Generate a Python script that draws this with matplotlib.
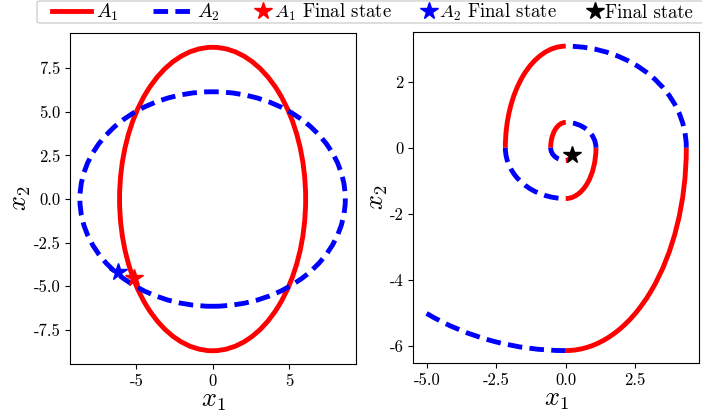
import matplotlib
matplotlib.use("Agg")
import matplotlib.pyplot as plt
from matplotlib.patches import Ellipse, Arc, FancyBboxPatch
from matplotlib.lines import Line2D

plt.rcParams['font.family'] = 'serif'
plt.rcParams['font.serif'] = ['cmr10']
plt.rcParams['mathtext.fontset'] = 'cm'
plt.rcParams['axes.unicode_minus'] = False
plt.rcParams['axes.formatter.use_mathtext'] = False

# semi-axes (x, y) of the two closed orbits
A1_axes = (6.1, 8.7)
A2_axes = (8.7, 6.15)
# where each mode ends up on the left panel
A1_final = (-5.13, -4.55)
A2_final = (-6.18, -4.2)

# switched trajectory: quarter arcs of the mode ellipses (angles in degrees)
seg_mode = ['A2', 'A1', 'A2', 'A1', 'A2', 'A1', 'A2', 'A1', 'A2', 'A1']
seg_a = [8.7, 4.35, 4.35, 2.18, 2.18, 1.09, 1.09, 0.545, 0.545, 0.27]
seg_b = [6.15, 6.15, 3.08, 3.08, 1.54, 1.54, 0.77, 0.77, 0.385, 0.385]
seg_start = [225, 270, 0, 90, 180, 270, 0, 90, 180, 270]
seg_end = [270, 360, 90, 180, 270, 360, 90, 180, 270, 300]
switched_final = (0.22, -0.22)

lw = 3.5
dash = (0, (3, 1.5))
style = {'A1': dict(color='red', linestyle='-'),
         'A2': dict(color='blue', linestyle=dash)}

W, H = 702, 415
fig = plt.figure(figsize=(W / 100, H / 100), dpi=100)
ax1 = fig.add_axes([0.0997, 0.1229, 0.4074, 0.798])
ax2 = fig.add_axes([0.5888, 0.125, 0.4074, 0.798])

# left: each mode on its own
ax1.add_patch(Ellipse((0, 0), 2 * A1_axes[0], 2 * A1_axes[1], fill=False, lw=lw, **style['A1']))
ax1.add_patch(Ellipse((0, 0), 2 * A2_axes[0], 2 * A2_axes[1], fill=False, lw=lw, **style['A2']))
ax1.plot(*A2_final, marker='*', color='blue', ms=13, ls='none')
ax1.plot(*A1_final, marker='*', color='red', ms=13, ls='none')
ax1.set_xlim(-9.35, 9.4)
ax1.set_ylim(-9.46, 9.53)
ax1.set_xticks([-5, 0, 5])
ax1.set_yticks([-7.5, -5, -2.5, 0, 2.5, 5, 7.5])
ax1.set_yticklabels(['-7.5', '-5.0', '-2.5', '0.0', '2.5', '5.0', '7.5'])

# right: switching between modes
for m, a, b, t1, t2 in zip(seg_mode, seg_a, seg_b, seg_start, seg_end):
    ax2.add_patch(Arc((0, 0), 2 * a, 2 * b, theta1=t1, theta2=t2, lw=lw, **style[m]))
ax2.plot(*switched_final, marker='*', color='black', ms=13, ls='none')
ax2.set_xlim(-5.5, 4.82)
ax2.set_ylim(-6.53, 3.51)
ax2.set_xticks([-5, -2.5, 0, 2.5])
ax2.set_xticklabels(['-5.0', '-2.5', '0.0', '2.5'])
ax2.set_yticks([-6, -4, -2, 0, 2])

for ax in (ax1, ax2):
    ax.set_xlabel('$x_1$', fontsize=19, labelpad=0)
    ax.set_ylabel('$x_2$', fontsize=19, labelpad=0)
    ax.tick_params(labelsize=12)

# legend strip along the top: one frame, lines and stars laid out separately
frame = FancyBboxPatch((37 / W, 1 - 23 / H), (730 - 37) / W, 22 / H,
                       boxstyle='round,pad=0,rounding_size=0.004',
                       transform=fig.transFigure, facecolor='white',
                       edgecolor='0.8', lw=1.0, alpha=0.9)
fig.add_artist(frame)

line_handles = [Line2D([], [], lw=lw, **style['A1']),
                Line2D([], [], lw=lw, **style['A2'])]
fig.legend(line_handles, ['$A_1$', '$A_2$'], loc='center left',
           bbox_to_anchor=(52 / W, 1 - 12.5 / H), ncol=2, fontsize=14,
           handlelength=2.0, handletextpad=0.25, columnspacing=1.8,
           borderpad=0, borderaxespad=0, frameon=False)

star_handles = [Line2D([], [], marker='*', color=c, ms=13, ls='none')
                for c in ('red', 'blue', 'black')]
fig.legend(star_handles, ['$A_1$ Final state', '$A_2$ Final state', 'Final state'],
           loc='center left', bbox_to_anchor=(254 / W, 1 - 12.5 / H), ncol=3,
           fontsize=13.5, handlelength=1.0, handletextpad=0.05, columnspacing=1.5,
           borderpad=0, borderaxespad=0, frameon=False)

fig.savefig('out.png', dpi=100)
